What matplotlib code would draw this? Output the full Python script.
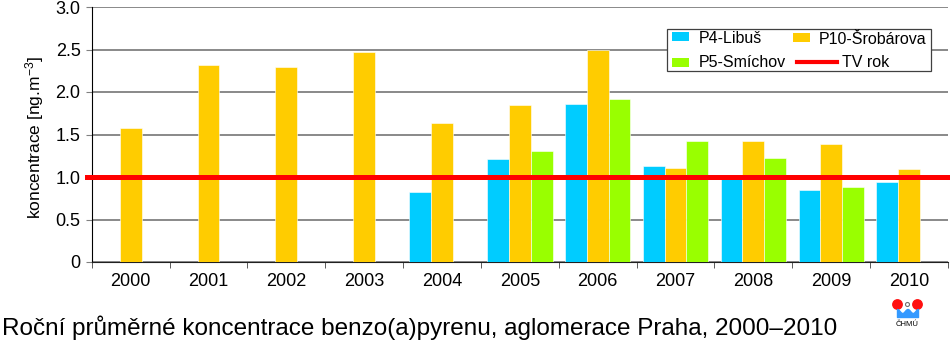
import matplotlib
matplotlib.use("Agg")
import matplotlib.pyplot as plt
import numpy as np
from matplotlib.patches import Circle, Rectangle
from matplotlib.lines import Line2D

plt.rcParams['font.family'] = ['Liberation Sans', 'DejaVu Sans']
plt.rcParams['mathtext.fontset'] = 'custom'
plt.rcParams['mathtext.rm'] = 'Liberation Sans'
plt.rcParams['mathtext.it'] = 'Liberation Sans'

years = ['2000', '2001', '2002', '2003', '2004', '2005', '2006', '2007', '2008', '2009', '2010']
p4_libus = [np.nan, np.nan, np.nan, np.nan, 0.82, 1.21, 1.86, 1.13, 0.98, 0.85, 0.94]
p10_srobarova = [1.58, 2.32, 2.29, 2.47, 1.63, 1.85, 2.50, 1.11, 1.42, 1.39, 1.09]
p5_smichov = [np.nan, np.nan, np.nan, np.nan, np.nan, 1.31, 1.92, 1.42, 1.22, 0.88, np.nan]
tv_rok = 1.0
yticks = [0, 0.5, 1.0, 1.5, 2.0, 2.5, 3.0]
ytick_labels = ['0', '0.5', '1.0', '1.5', '2.0', '2.5', '3.0']
series_labels = ['P4-Libuš', 'P10-Šrobárova', 'P5-Smíchov', 'TV rok']

c_p4 = '#00CCFF'
c_p10 = '#FFCC00'
c_p5 = '#99FF00'
c_tv = '#FF0000'

W, H = 950, 353
fig = plt.figure(figsize=(W / 100, H / 100), dpi=100)
ax = fig.add_axes([91.7 / W, 1 - 262 / H, (948 - 91.7) / W, 255 / H])

def P(px, py):
    return (px / W, 1 - py / H)

x = np.arange(len(years))
w = 0.28

def bars(vals, offs, col):
    xs, hs = [], []
    for xi, v in zip(x, vals):
        if not np.isnan(v):
            xs.append(xi + offs)
            hs.append(v)
    ax.bar(xs, hs, width=w, color=col, edgecolor='#FFFFFF', linewidth=0.4, zorder=3)

bars(p4_libus, -w, c_p4)
bars(p10_srobarova, 0.0, c_p10)
bars(p5_smichov, w, c_p5)

ax.set_xlim(-0.5, len(years) - 0.5)
ax.set_ylim(0, 3.0)

ax.axhline(tv_rok, color=c_tv, lw=3.6, zorder=4, xmin=-0.005, xmax=1.003, clip_on=False)

ax.set_yticks(yticks)
ax.set_yticklabels(ytick_labels, fontsize=13)
ax.yaxis.grid(True, color='#808080', lw=1.3, zorder=0)
ax.set_axisbelow(True)

ax.set_xticks(x)
ax.set_xticklabels(years, fontsize=13)
ax.tick_params(axis='x', length=0, pad=8)
ax.set_xticks(np.arange(-0.5, len(years)), minor=True)
ax.tick_params(axis='x', which='minor', length=4, direction='out', color='#404040')
ax.tick_params(axis='y', length=4, direction='out', color='#808080', pad=4)

for s in ['top', 'right']:
    ax.spines[s].set_visible(False)
ax.spines['left'].set_color('#000000')
ax.spines['bottom'].set_color('#202020')

ax.set_ylabel('koncentrace [ng.m$^{-3}$]', fontsize=12.5)
ax.yaxis.set_label_coords((46 - 91.7) / (948 - 91.7), 0.49)

# legend drawn manually (Excel-style layout)
fr = Rectangle(P(667, 71), (931 - 667) / W, (71 - 29) / H, transform=fig.transFigure,
               facecolor='white', edgecolor='#404040', lw=0.9, zorder=10)
fig.patches.append(fr)
def leg_patch(x0, yc, col):
    fig.patches.append(Rectangle(P(x0, yc + 4.5), 17 / W, 9 / H, transform=fig.transFigure,
                                 facecolor=col, edgecolor='none', zorder=11))
leg_patch(672, 36.5, c_p4)
leg_patch(793, 37.5, c_p10)
leg_patch(672, 62, c_p5)
fig.lines.append(Line2D([797 / W, 837 / W], [1 - 62 / H, 1 - 62 / H], transform=fig.transFigure,
                        color=c_tv, lw=3, zorder=11))
lf = 11.5
fig.text(*P(699, 43), series_labels[0], fontsize=lf, va='baseline', ha='left', zorder=12)
fig.text(*P(819, 43.5), series_labels[1], fontsize=lf, va='baseline', ha='left', zorder=12)
fig.text(*P(699, 67), series_labels[2], fontsize=lf, va='baseline', ha='left', zorder=12)
fig.text(*P(842, 67), series_labels[3], fontsize=lf, va='baseline', ha='left', zorder=12)

fig.text(*P(2, 335), 'Roční průměrné koncentrace benzo(a)pyrenu, aglomerace Praha, 2000–2010',
         fontsize=17.5, ha='left', va='baseline')

# CHMU logo
lax = fig.add_axes([885 / W, 1 - 332 / H, 45 / W, 37 / H])
lax.set_xlim(885, 930)
lax.set_ylim(332, 295)
lax.axis('off')
lax.add_patch(Circle((897.5, 304.5), 4.7, color='#FF1010'))
lax.add_patch(Circle((917.5, 304.5), 4.7, color='#FF1010'))
lax.add_patch(Circle((907.5, 304.5), 2.0, facecolor='white', edgecolor='#707070', lw=0.8))
wx = np.linspace(897, 918, 60)
lax.fill_between(wx, 317, 311 - 2 * np.cos((wx - 897) / 21 * 4 * np.pi), color='#3399FF')
lax.text(907.5, 324, 'ČHMÚ', fontsize=5.5, ha='center', va='center')

fig.savefig('out.png', dpi=100)
